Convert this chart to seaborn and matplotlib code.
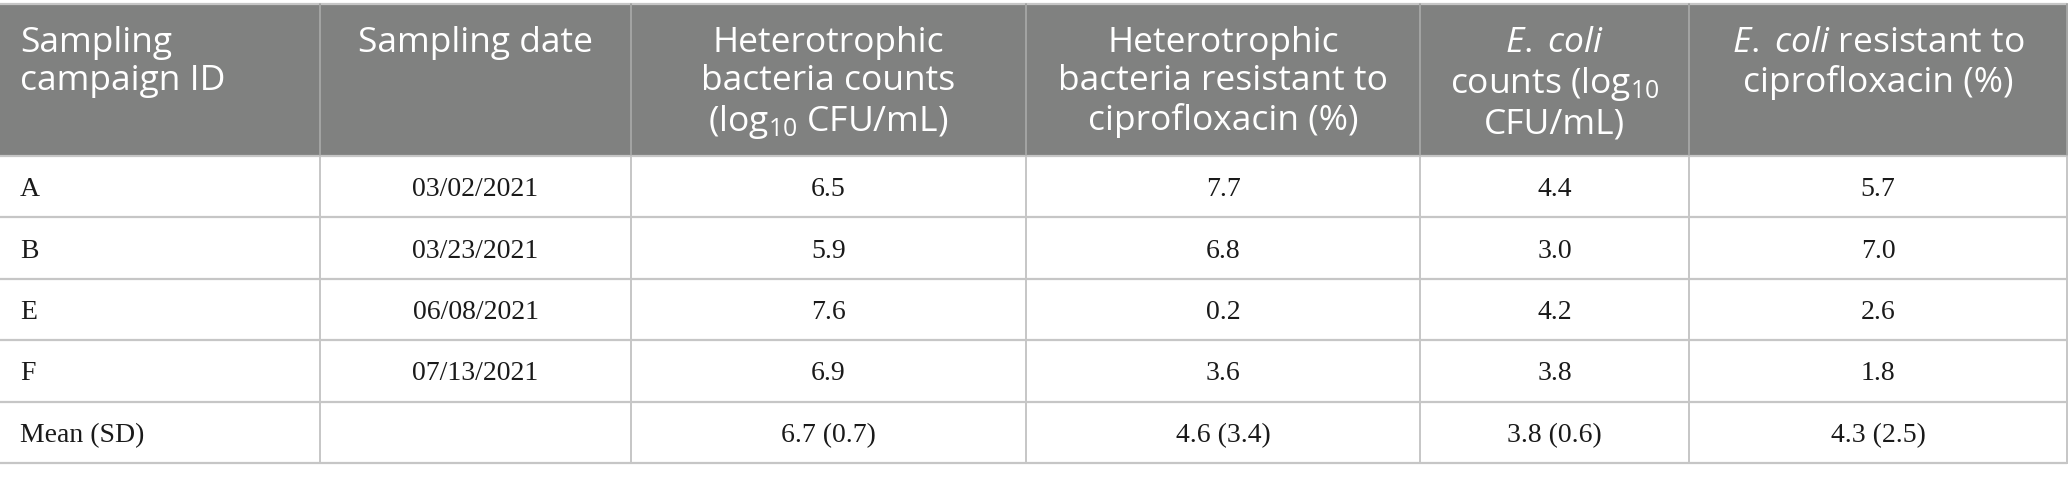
import matplotlib
matplotlib.use("Agg")
import matplotlib.pyplot as plt
from matplotlib.patches import Rectangle
import seaborn as sns
import pandas as pd

#==================
#Table data
#==================
campaign_ids = ["A", "B", "E", "F"]
sampling_dates = ["03/02/2021", "03/23/2021", "06/08/2021", "07/13/2021"]
het_counts = [6.5, 5.9, 7.6, 6.9]
het_resistant = [7.7, 6.8, 0.2, 3.6]
ecoli_counts = [4.4, 3.0, 4.2, 3.8]
ecoli_resistant = [5.7, 7.0, 2.6, 1.8]

mean_label = "Mean (SD)"
means = [6.7, 4.6, 3.8, 4.3]
sds = [0.7, 3.4, 0.6, 2.5]

headers = [
    "Sampling\ncampaign ID",
    "Sampling date",
    "Heterotrophic\nbacteria counts\n(log$_{10}$ CFU/mL)",
    "Heterotrophic\nbacteria resistant to\nciprofloxacin (%)",
    "$\\mathit{E.}$ $\\mathit{coli}$\ncounts (log$_{10}$\nCFU/mL)",
    "$\\mathit{E.}$ $\\mathit{coli}$ resistant to\nciprofloxacin (%)",
]

df = pd.DataFrame({
    "id": campaign_ids,
    "date": sampling_dates,
    "het_counts": het_counts,
    "het_resistant": het_resistant,
    "ecoli_counts": ecoli_counts,
    "ecoli_resistant": ecoli_resistant,
})

rows = [[r.id, r.date] + [f"{v:.1f}" for v in
        (r.het_counts, r.het_resistant, r.ecoli_counts, r.ecoli_resistant)]
        for r in df.itertuples()]
rows.append([mean_label, ""] + [f"{m:.1f} ({s:.1f})" for m, s in zip(means, sds)])

#==================
#Style
#==================
sns.set_theme(style="white")
plt.rcParams["font.family"] = ["Open Sans", "DejaVu Sans"]
plt.rcParams["mathtext.fontset"] = "custom"
plt.rcParams["mathtext.rm"] = "Open Sans"
plt.rcParams["mathtext.it"] = "Open Sans:italic"
plt.rcParams["mathtext.default"] = "regular"

header_color = "#808180"
line_color = "#c6c6c6"
header_sep = "#a3a4a3"

col_edges = [0, 320, 631, 1026, 1420, 1689, 2067]
header_top, header_bottom = 4, 156
row_h = 61.4
pad_left = 20

#==================
#Draw table
#==================
fig = plt.figure(figsize=(20.68, 4.82), dpi=100)
ax = fig.add_axes([0, 0, 1, 1])
ax.set_xlim(0, 2068)
ax.set_ylim(482, 0)
ax.axis("off")

ax.add_patch(Rectangle((0, header_top), col_edges[-1], header_bottom - header_top,
                       facecolor=header_color, edgecolor="none"))

n_rows = len(rows)
table_bottom = header_bottom + n_rows * row_h

# horizontal lines
ax.plot([0, col_edges[-1]], [header_top, header_top], color=line_color, lw=1.6)
for i in range(n_rows + 1):
    y = header_bottom + i * row_h
    ax.plot([0, col_edges[-1]], [y, y], color=line_color, lw=1.6)

# vertical lines
for x in col_edges[1:]:
    ax.plot([x, x], [header_top, header_bottom], color=header_sep, lw=1.4)
    ax.plot([x, x], [header_bottom, table_bottom], color=line_color, lw=1.4)

# header text
for j, h in enumerate(headers):
    if j == 0:
        ax.text(col_edges[0] + pad_left, 26, h, ha="left", va="top",
                fontsize=25.5, color="white", linespacing=1.17)
    else:
        xc = (col_edges[j] + col_edges[j + 1]) / 2
        ax.text(xc, 26, h, ha="center", va="top", multialignment="center",
                fontsize=25.5, color="white", linespacing=1.17)

# body text
for i, row in enumerate(rows):
    yc = header_bottom + (i + 0.5) * row_h
    for j, val in enumerate(row):
        if j == 0:
            ax.text(col_edges[0] + pad_left, yc, val, ha="left", va="center_baseline",
                    fontsize=20, color="#1a1a1a", family="Liberation Serif")
        else:
            xc = (col_edges[j] + col_edges[j + 1]) / 2
            ax.text(xc, yc, val, ha="center", va="center_baseline",
                    fontsize=20, color="#1a1a1a", family="Liberation Serif")

plt.savefig("out.png", dpi=100)
